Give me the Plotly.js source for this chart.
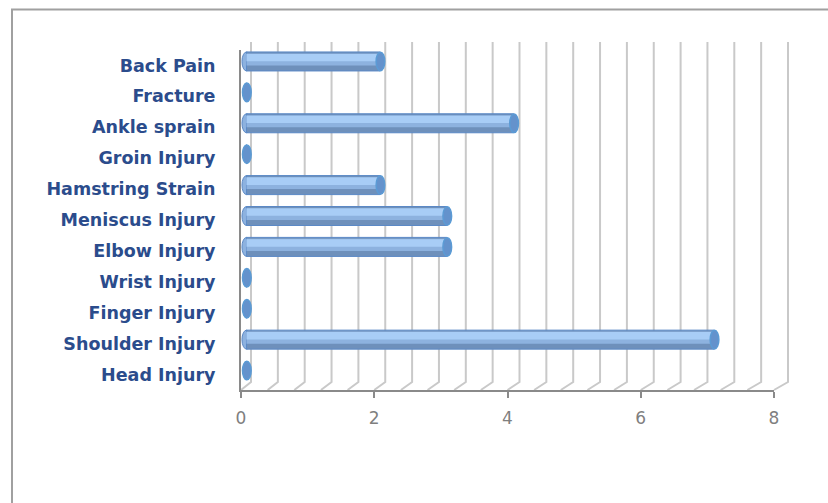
<!DOCTYPE html>
<html>
<head>
<meta charset="utf-8">
<script src="https://cdn.plot.ly/plotly-3.0.1.min.js"></script>
<style>html,body{margin:0;padding:0;background:#fff;}#chart{width:828px;height:503px;}</style>
</head>
<body>
<div id="chart"></div>
<script>
// ---- data ----
const categories = ['Back Pain','Fracture','Ankle sprain','Groin Injury','Hamstring Strain','Meniscus Injury','Elbow Injury','Wrist Injury','Finger Injury','Shoulder Injury','Head Injury'];
const values = [2,0,4,0,2,3,3,0,0,7,0];
const xTickVals = [0,2,4,6,8];
const xMax = 8;
const gridStep = 0.4;

// ---- geometry helpers (pixel -> paper) ----
const W = 828, H = 503;
const px = x => x / W;
const py = y => 1 - y / H;

// front frame
const F = {x0: 241, x1: 774, y0: 50, y1: 390};
// back wall
const B = {x0: 251, x1: 788, y0: 42, y1: 382};
// bar (middle depth) frame: value 0 at x0, value xMax at x1
const M = {x0: 246.5, x1: 781, y0: 46, y1: 386};
const mScale = (M.x1 - M.x0) / xMax;
const mPad = 0.1; // extra range on the left so the start caps are not clipped

const traces = [];
// invisible front trace to establish categories on front axes
traces.push({type:'scatter', x: values.map(() => 0), y: categories, mode:'markers',
  marker:{opacity:0}, xaxis:'x', yaxis:'y', hoverinfo:'skip', showlegend:false});

// cylinder-like bars: layered bars
const layers = [
  {width:0.615, offset:-0.3075, color:'#6e90bb', line:{color:'#5b89c6', width:1}},
  {width:0.39, offset:-0.26, color:'#8db2df', line:{width:0}},
  {width:0.24, offset:-0.245, color:'#a8cdf6', line:{width:0}}
];
layers.forEach(L => {
  traces.push({type:'bar', orientation:'h', x: values, y: categories,
    width: categories.map(() => L.width), offset: categories.map(() => L.offset),
    marker:{color:L.color, line:L.line}, xaxis:'x3', yaxis:'y3',
    hoverinfo:'skip', showlegend:false});
});

const shapes = [];
// outer chart border
shapes.push({type:'rect', xref:'paper', yref:'paper', x0:px(12), x1:1.2, y0:-0.2, y1:py(9.5),
  line:{color:'#a0a0a0', width:2}, layer:'below'});
// back wall gridlines + floor diagonals
for (let k = 0; k <= Math.round(xMax / gridStep); k++) {
  const v = k * gridStep;
  const bx = B.x0 + v / xMax * (B.x1 - B.x0);
  const fx = F.x0 + v / xMax * (F.x1 - F.x0);
  shapes.push({type:'path', xref:'paper', yref:'paper',
    path:`M ${px(bx)},${py(B.y0)} L ${px(bx)},${py(B.y1)} L ${px(fx)},${py(F.y1)}`,
    line:{color:'#c9c9c9', width:2}, layer:'below'});
}
// left (start) caps of cylinders, behind bar bodies
values.forEach((v, i) => {
  if (v > 0) {
    shapes.push({type:'circle', xref:'x3', yref:'y3', x0: -0.068, x1: 0.068,
      y0: i - 0.3075, y1: i + 0.3075, fillcolor:'#8db2df', line:{color:'#5b89c6', width:1}, layer:'below'});
  }
});
// end caps of cylinders
values.forEach((v, i) => {
  shapes.push({type:'circle', xref:'x3', yref:'y3', x0: v - 0.06, x1: v + 0.07,
    y0: i - 0.3, y1: i + 0.3, fillcolor:'#6492cc', line:{color:'#5b9bd5', width:1.5}, layer:'above'});
});

const layout = {
  width: W, height: H,
  margin:{l:0, r:0, t:0, b:0},
  paper_bgcolor:'#ffffff', plot_bgcolor:'rgba(0,0,0,0)',
  showlegend:false, barmode:'overlay', hovermode:false,
  xaxis:{domain:[px(F.x0), px(F.x1)], range:[0, xMax], anchor:'y',
    tickvals: xTickVals, ticktext: xTickVals.map(String),
    showgrid:false, zeroline:false, showline:true, linecolor:'#8a8a8a', linewidth:2,
    ticks:'outside', ticklen:6, tickwidth:2, tickcolor:'#8a8a8a',
    tickfont:{family:'DejaVu Sans', size:17, color:'#7f7f7f'}, ticklabelstandoff:6},
  yaxis:{domain:[py(F.y1), py(F.y0)], type:'category', categoryarray: categories,
    range:[categories.length - 0.5, -0.5], anchor:'x',
    showgrid:false, zeroline:false, showline:true, linecolor:'#8a8a8a', linewidth:2,
    ticks:'', ticklabelstandoff:20,
    tickfont:{family:'DejaVu Sans', size:17.5, color:'#2b4c8c', weight:'bold'}},
  xaxis3:{domain:[px(M.x0 - mPad * mScale), px(M.x1)], range:[-mPad, xMax], anchor:'y3', visible:false, fixedrange:true},
  yaxis3:{domain:[py(M.y1), py(M.y0)], type:'category', categoryarray: categories,
    range:[categories.length - 0.5, -0.5], anchor:'x3', visible:false, fixedrange:true},
  shapes: shapes
};

Plotly.newPlot('chart', traces, layout, {staticPlot:true, displayModeBar:false});
</script>
</body>
</html>
